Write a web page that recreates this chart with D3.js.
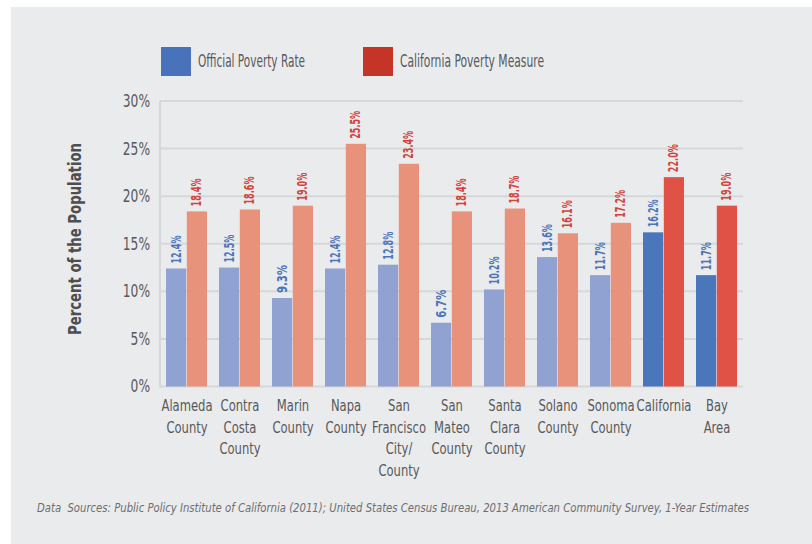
<!DOCTYPE html>
<html><head><meta charset="utf-8">
<script src="https://cdn.jsdelivr.net/npm/d3@7"></script>
<style>
html,body{margin:0;padding:0;background:#fff;}
svg{display:block;}
</style></head>
<body>
<svg id="chart" width="812" height="544"></svg>
<script>
const categories = [
  ["Alameda","County"],
  ["Contra","Costa","County"],
  ["Marin","County"],
  ["Napa","County"],
  ["San","Francisco","City/","County"],
  ["San","Mateo","County"],
  ["Santa","Clara","County"],
  ["Solano","County"],
  ["Sonoma","County"],
  ["California"],
  ["Bay","Area"]
];
const officialRate = [12.4, 12.5, 9.3, 12.4, 12.8, 6.7, 10.2, 13.6, 11.7, 16.2, 11.7];
const californiaMeasure = [18.4, 18.6, 19.0, 25.5, 23.4, 18.4, 18.7, 16.1, 17.2, 22.0, 19.0];
const highlighted = [false,false,false,false,false,false,false,false,false,true,true];
const yTicks = [0, 5, 10, 15, 20, 25, 30];
const seriesNames = ["Official Poverty Rate", "California Poverty Measure"];

const FONT = "'Liberation Sans Narrow','DejaVu Sans Condensed','Open Sans',sans-serif";
const TEXT = "#58595b";
const colors = {
  offLight: "#8fa2d1", offDark: "#4a76bb",
  cpmLight: "#e9927b", cpmDark: "#e05246",
  legOff: "#4872ba", legCpm: "#c43528",
  lblOff: "#4a74bb", lblCpm: "#d2443a"
};

const svg = d3.select("#chart");
function squeeze(sel, k) {
  sel.each(function(){
    const w = this.getComputedTextLength();
    d3.select(this).attr("textLength", w * k).attr("lengthAdjust", "spacingAndGlyphs");
  });
}
function fitTo(sel, w) {
  sel.attr("textLength", w).attr("lengthAdjust", "spacingAndGlyphs");
}

// panel background
svg.append("rect").attr("x", 11).attr("y", 7).attr("width", 812 - 11).attr("height", 544 - 7).attr("fill", "#eaebed");

const x0 = d3.scaleBand().domain(d3.range(categories.length)).range([160, 743]).paddingInner(12/53).paddingOuter(6/53);
const x1 = d3.scaleBand().domain([0, 1]).range([0, x0.bandwidth()]).paddingInner(0.03);
const y = d3.scaleLinear().domain([0, 30]).range([386.5, 101]);

// gridlines
const grid = svg.append("g");
grid.selectAll("line").data(yTicks).join("line")
  .attr("x1", 160).attr("x2", 743)
  .attr("y1", d => y(d)).attr("y2", d => y(d))
  .attr("stroke", "#d6d7d9").attr("stroke-width", 2);
grid.append("line").attr("x1", 160).attr("x2", 160).attr("y1", y(30)).attr("y2", y(0) + 1)
  .attr("stroke", "#d6d7d9").attr("stroke-width", 2);

// y axis tick labels
const yAxis = d3.axisLeft(y).tickValues(yTicks).tickFormat(d => d + "%").tickSize(0).tickPadding(10);
const yg = svg.append("g").attr("transform", "translate(160,0)").call(yAxis);
yg.select(".domain").remove();
yg.selectAll("text").attr("font-family", FONT).attr("font-size", 17).attr("fill", TEXT)
  .call(squeeze, 0.8);

// y title
svg.append("text")
  .attr("transform", "translate(81,239) rotate(-90)")
  .attr("text-anchor", "middle")
  .attr("font-family", FONT).attr("font-weight", "bold").attr("font-size", 17.5).attr("fill", "#4d4e50")
  .text("Percent of the Population")
  .call(fitTo, 192);

// bars
const groups = svg.append("g").selectAll("g").data(categories.map((c, i) => i)).join("g")
  .attr("transform", i => `translate(${x0(i)},0)`);

groups.append("rect")
  .attr("x", x1(0)).attr("width", x1.bandwidth())
  .attr("y", i => y(officialRate[i])).attr("height", i => y(0) - y(officialRate[i]))
  .attr("fill", i => highlighted[i] ? colors.offDark : colors.offLight);
groups.append("rect")
  .attr("x", x1(1)).attr("width", x1.bandwidth())
  .attr("y", i => y(californiaMeasure[i])).attr("height", i => y(0) - y(californiaMeasure[i]))
  .attr("fill", i => highlighted[i] ? colors.cpmDark : colors.cpmLight);

// value labels
function valLabel(vals, s, col) {
  groups.append("text")
    .attr("transform", i => `translate(${x1(s) + x1.bandwidth()/2 - 0.5},${y(vals[i]) - 5}) rotate(-90)`)
    .attr("dy", "0.36em")
    .attr("font-family", FONT).attr("font-weight", "bold").attr("font-size", 14)
    .attr("fill", col)
    .text(i => vals[i].toFixed(1) + "%")
    .call(fitTo, 28);
}
valLabel(officialRate, 0, colors.lblOff);
valLabel(californiaMeasure, 1, colors.lblCpm);

// category labels (horizontally condensed via scale transform)
const cat = svg.append("g").selectAll("text").data(categories.map((c, i) => i)).join("text")
  .attr("transform", i => `translate(${x0(i) + x0.bandwidth()/2 + 0.5},411) scale(0.78,1)`)
  .attr("text-anchor", "middle")
  .attr("font-family", FONT).attr("font-size", 16.5).attr("fill", TEXT);
cat.selectAll("tspan").data(i => categories[i]).join("tspan")
  .attr("x", 0)
  .attr("dy", (d, j) => j === 0 ? 0 : 21.7)
  .text(d => d);

// legend
const leg = svg.append("g");
const legItems = [
  {name: seriesNames[0], color: colors.legOff, x: 161},
  {name: seriesNames[1], color: colors.legCpm, x: 363}
];
leg.selectAll("rect").data(legItems).join("rect")
  .attr("x", d => d.x).attr("y", 47).attr("width", 30).attr("height", 29).attr("fill", d => d.color);
leg.selectAll("text").data(legItems).join("text")
  .attr("x", d => d.x + 37).attr("y", 67)
  .attr("font-family", FONT).attr("font-size", 18).attr("fill", TEXT)
  .text(d => d.name)
  .each(function(d, i){ d3.select(this).call(fitTo, i === 0 ? 107 : 144); });

// footnote
svg.append("text")
  .attr("x", 37).attr("y", 512)
  .attr("font-family", FONT).attr("font-style", "italic").attr("font-size", 12).attr("fill", "#6d6e70")
  .attr("xml:space", "preserve")
  .text("Data  Sources: Public Policy Institute of California (2011); United States Census Bureau, 2013 American Community Survey, 1-Year Estimates")
  .call(fitTo, 712);
</script>
</body></html>
